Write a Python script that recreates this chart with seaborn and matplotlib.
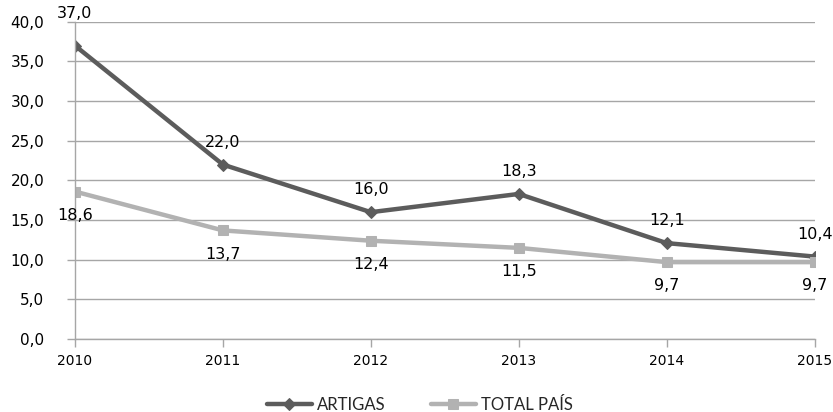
import matplotlib
matplotlib.use("Agg")
import matplotlib.pyplot as plt
import seaborn as sns
import pandas as pd

years = [2010, 2011, 2012, 2013, 2014, 2015]
artigas = [37.0, 22.0, 16.0, 18.3, 12.1, 10.4]
total_pais = [18.6, 13.7, 12.4, 11.5, 9.7, 9.7]
series_names = ["ARTIGAS", "TOTAL PAÍS"]
y_ticks = [0, 5, 10, 15, 20, 25, 30, 35, 40]

sns.set_theme(style="white")
plt.rcParams["font.family"] = ["DejaVu Sans"]

dark = "#5c5c5c"
light = "#b2b2b2"
grid = "#a6a6a6"

fig = plt.figure(figsize=(8.33, 4.12), dpi=100)
ax = fig.add_axes([0.090, 0.177, 0.888, 0.770])

df = pd.DataFrame({"year": years, "artigas": artigas, "total": total_pais})
sns.lineplot(data=df, x="year", y="artigas", ax=ax, color=dark, linewidth=3.2,
             marker="D", markersize=6, markeredgecolor=dark, label=series_names[0])
sns.lineplot(data=df, x="year", y="total", ax=ax, color=light, linewidth=3.2,
             marker="s", markersize=7, markeredgecolor=light, label=series_names[1])

def fmt(v):
    return f"{v:.1f}".replace(".", ",")

for i, (x, v) in enumerate(zip(years, artigas)):
    dy = 23 if i == 0 else 16
    ax.annotate(fmt(v), (x, v), xytext=(0, dy), textcoords="offset points",
                ha="center", va="center", fontsize=11.5, color="black",
                annotation_clip=False)
for x, v in zip(years, total_pais):
    ax.annotate(fmt(v), (x, v), xytext=(0, -17), textcoords="offset points",
                ha="center", va="center", fontsize=11.5, color="black",
                annotation_clip=False)

ax.set_xlim(years[0], years[-1])
ax.set_ylim(0, 40)
ax.set_yticks(y_ticks)
ax.set_yticklabels([fmt(t) for t in y_ticks], fontsize=11)
ax.set_xticks(years)
ax.set_xticklabels([str(y) for y in years], fontsize=10)
ax.set_xlabel("")
ax.set_ylabel("")
ax.yaxis.grid(True, color=grid, linewidth=1)
ax.set_axisbelow(True)
ax.tick_params(axis="both", which="major", length=6, width=1, color=grid,
               direction="out", left=True, bottom=True, labelcolor="black")
ax.tick_params(axis="y", pad=16)
ax.tick_params(axis="x", pad=5)
for side in ["top", "right"]:
    ax.spines[side].set_visible(False)
for side in ["left", "bottom"]:
    ax.spines[side].set_color(grid)
    ax.spines[side].set_linewidth(1)

leg = ax.legend(loc="upper center", bbox_to_anchor=(0.466, -0.135), ncol=2,
                frameon=False, handlelength=2.7, columnspacing=2.7,
                handletextpad=0.3, prop={"family": "Lato", "size": 12})

fig.savefig("out.png", dpi=100)
